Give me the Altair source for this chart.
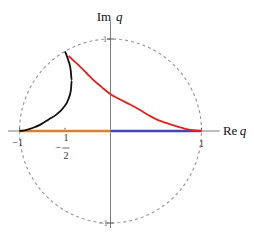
import altair as alt
import pandas as pd
import numpy as np

# ---- data ----
black_x = [-1.0, -0.93, -0.85, -0.76, -0.68, -0.60, -0.52, -0.465, -0.435, -0.426, -0.437, -0.464, -0.50]
black_y = [0.0, 0.01, 0.035, 0.075, 0.125, 0.175, 0.25, 0.34, 0.445, 0.55, 0.66, 0.77, 0.866]

red_x = [-0.46, -0.40, -0.335, -0.26, -0.19, -0.10, 0.0, 0.10, 0.21, 0.32, 0.43, 0.53, 0.62, 0.71, 0.80, 0.88, 1.0]
red_y = [0.815, 0.76, 0.70, 0.625, 0.555, 0.48, 0.40, 0.345, 0.29, 0.23, 0.165, 0.115, 0.085, 0.055, 0.03, 0.012, 0.0]

orange_x = [-1.0, 0.0]
blue_x = [0.0, 1.0]

xtick_vals = [-1.0, -0.5, 1.0]
ytick_vals = [1.0, -1.0]

# ---- layout ----
W, H = 238, 220
xmin = -(110.5 - 8) / 91.0
xmax = xmin + W / 91.0
ymax = (131 - 8) / 92.0
ymin = ymax - H / 92.0

X = lambda f: alt.X(f, type="quantitative", scale=alt.Scale(domain=[xmin, xmax], nice=False, zero=False), axis=None)
Y = lambda f: alt.Y(f, type="quantitative", scale=alt.Scale(domain=[ymin, ymax], nice=False, zero=False), axis=None)

ang = np.linspace(0, 2 * np.pi, 181)
circle = pd.DataFrame({"x": np.cos(ang), "y": np.sin(ang), "o": np.arange(len(ang))})

circ = alt.Chart(circle).mark_line(color="#9a9a9a", strokeWidth=1.2, strokeDash=[3, 3]).encode(
    x=X("x"), y=Y("y"), order="o:Q")

axes_df = pd.DataFrame({"x": [-1.25, 0.0], "x2": [1.2, 0.0], "y": [0.0, ymin], "y2": [0.0, 1.19]})
axes = alt.Chart(axes_df).mark_rule(color="#7a7a7a", strokeWidth=1).encode(
    x=X("x"), x2="x2", y=Y("y"), y2="y2")

xt = pd.DataFrame({"x": xtick_vals, "y": [0.0] * 3, "y2": [0.035] * 3})
xticks = alt.Chart(xt).mark_rule(color="#555", strokeWidth=1).encode(x=X("x"), y=Y("y"), y2="y2")
yt = pd.DataFrame({"y": ytick_vals, "x": [-0.04, -0.04], "x2": [0.035, 0.035]})
yticks = alt.Chart(yt).mark_rule(color="#555", strokeWidth=1).encode(x=X("x"), x2="x2", y=Y("y"))

orange_df = pd.DataFrame({"x": orange_x, "y": [0.0, 0.0]})
blue_df = pd.DataFrame({"x": blue_x, "y": [0.0, 0.0]})
orange_halo = alt.Chart(orange_df).mark_line(color="#f8d2aa", strokeWidth=3.5).encode(x=X("x"), y=Y("y"))
orange = alt.Chart(orange_df).mark_line(color="#c8680e", strokeWidth=1.5).encode(x=X("x"), y=Y("y"))
blue_halo = alt.Chart(blue_df).mark_line(color="#bcc4f2", strokeWidth=3.5).encode(x=X("x"), y=Y("y"))
blue = alt.Chart(blue_df).mark_line(color="#1c1c96", strokeWidth=1.5).encode(x=X("x"), y=Y("y"))

bdf = pd.DataFrame({"x": black_x, "y": black_y, "o": range(len(black_x))})
black = alt.Chart(bdf).mark_line(color="#111111", strokeWidth=1.8, interpolate="monotone").encode(
    x=X("x"), y=Y("y"), order="o:Q")
rdf = pd.DataFrame({"x": red_x, "y": red_y, "o": range(len(red_x))})
red = alt.Chart(rdf).mark_line(color="#e5211d", strokeWidth=1.8, interpolate="monotone").encode(
    x=X("x"), y=Y("y"), order="o:Q")

font = "Liberation Serif"
def txt(x, y, s, size=10, italic=False, align="center", baseline="middle", color="#333"):
    return alt.Chart(pd.DataFrame({"x": [x], "y": [y], "t": [s]})).mark_text(
        font=font, fontSize=size, fontStyle="italic" if italic else "normal",
        align=align, baseline=baseline, color=color).encode(x=X("x"), y=Y("y"), text="t:N")

labels = [
    txt(1.235, 0.0, "Re", 13, align="left", color="#111"),
    txt(1.42, 0.0, "q", 13, italic=True, align="left", color="#111"),
    txt(-0.152, 1.24, "Im", 13, align="left", color="#111"),
    txt(0.06, 1.24, "q", 13, italic=True, align="left", color="#111"),
    txt(-1.02, -0.13, "\u22121", 10),
    txt(1.0, -0.14, "1", 10),
    txt(-0.489, -0.08, "1", 10),
    txt(-0.574, -0.18, "\u2212", 10),
    txt(-0.489, -0.275, "2", 10),
    txt(-0.06, 1.0, "1", 9, color="#777"),
    txt(-0.08, -1.0, "\u22121", 9, color="#777"),
]
bar = alt.Chart(pd.DataFrame({"x": [-0.53], "x2": [-0.45], "y": [-0.185]})).mark_rule(
    color="#444", strokeWidth=0.8).encode(x=X("x"), x2="x2", y=Y("y"))

chart = alt.layer(circ, axes, xticks, yticks, orange_halo, blue_halo, orange, blue, black, red,
                  bar, *labels).properties(
    width=W, height=H, padding=0, autosize=alt.AutoSizeParams(type="none")
).configure_view(stroke=None)

chart.save("out.html", embed_options={"renderer": "svg", "actions": False})
